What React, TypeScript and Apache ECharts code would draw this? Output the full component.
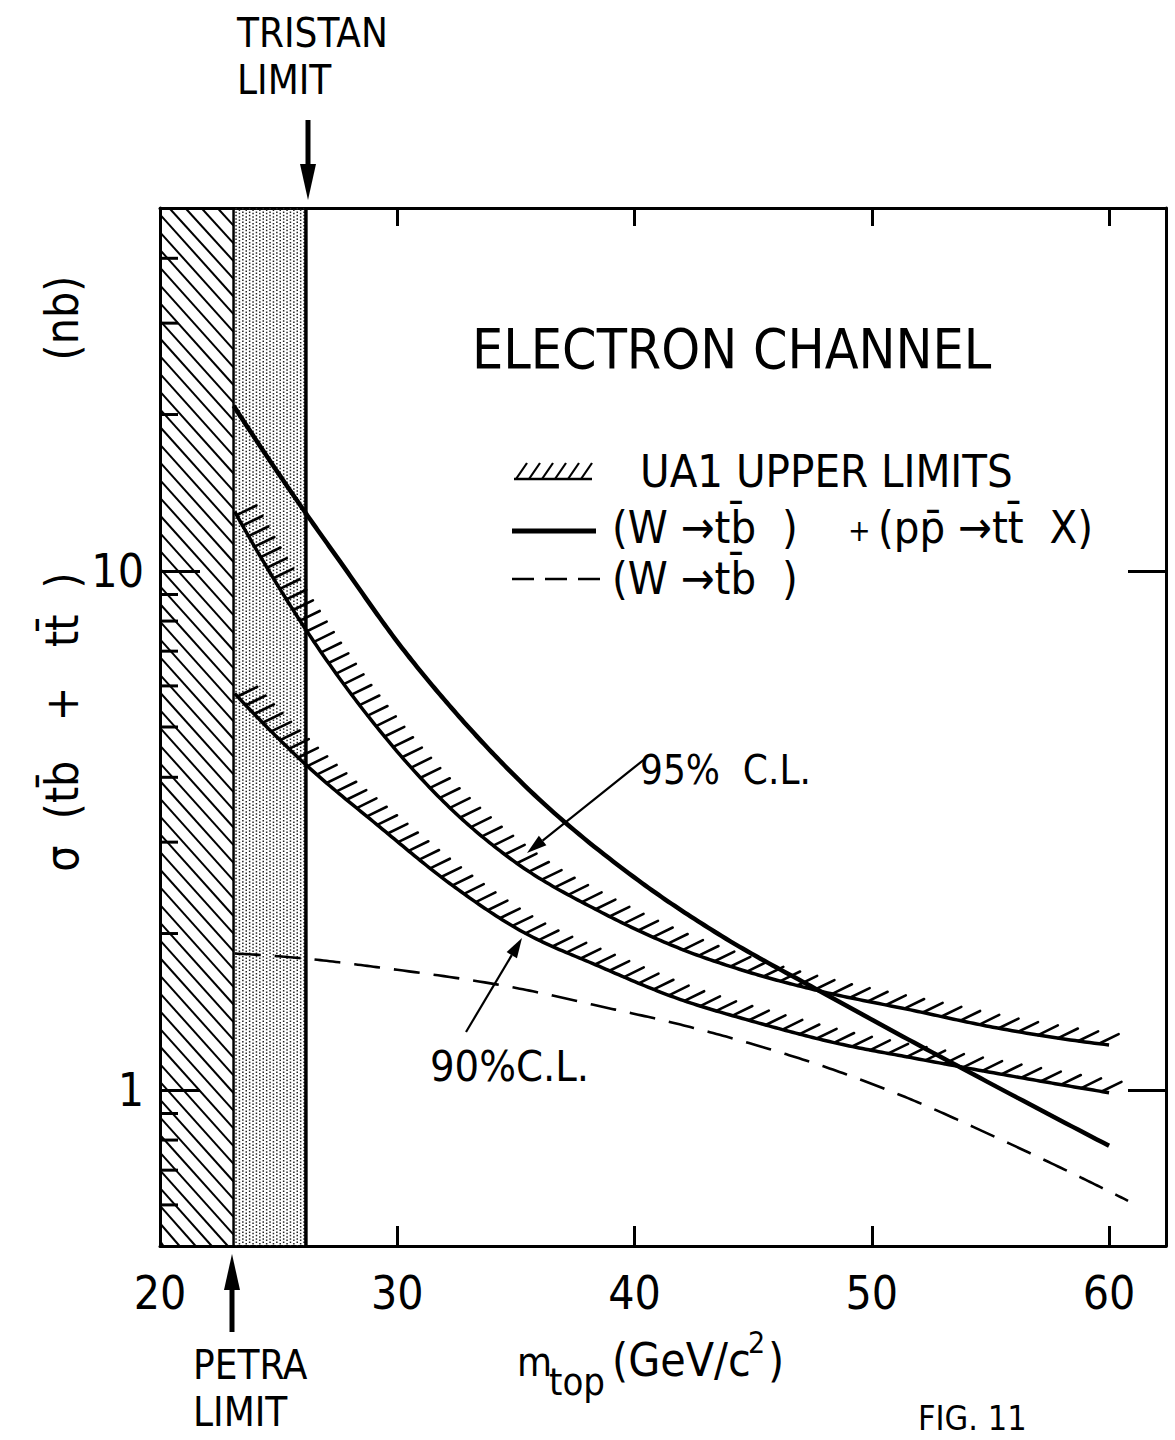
import React, { useEffect, useRef } from "react";
import * as echarts from "echarts";

const FONT = "'DejaVu Sans Condensed', 'DejaVu Sans', sans-serif";

// axes
const xRange = [20, 62.4];
const yRange = [0.5, 50];
const xTickValues = [20, 30, 40, 50, 60];
const yLabelValues = [1, 10];
const yMinorTicks = [0.6, 0.7, 0.8, 0.9, 2, 3, 4, 5, 6, 7, 8, 9, 20, 30, 40];

// excluded regions
const petraLimit = 23.1;
const tristanLimit = 26.15;

// (W -> t bbar) + (p pbar -> t tbar X)
const combinedMass = [23.1, 26.15, 27.6, 30.1, 32.6, 35.16, 40.17, 43.5, 47.8, 53.8, 60];
const combinedXsec = [20.8, 12.9, 10.4, 7.2, 5.24, 3.94, 2.53, 2.0, 1.55, 1.1, 0.78];

// UA1 upper limit 95% C.L.
const limit95Mass = [23.15, 26.1, 29.26, 32.2, 34.9, 38.5, 41.8, 45.1, 47.8, 51.8, 55.1, 60];
const limit95Xsec = [13.0, 7.76, 4.92, 3.5, 2.76, 2.21, 1.88, 1.67, 1.55, 1.42, 1.32, 1.22];

// UA1 upper limit 90% C.L.
const limit90Mass = [23.15, 26.1, 29.26, 32.2, 35.16, 38.5, 41.8, 45.1, 48.5, 51.8, 56.8, 60];
const limit90Xsec = [5.8, 4.25, 3.21, 2.5, 2.03, 1.73, 1.5, 1.35, 1.23, 1.15, 1.045, 0.987];

// (W -> t bbar) only
const wOnlyMass = [23.15, 26.1, 29.26, 35.16, 38.5, 41.8, 45.1, 48.5, 51.8, 55.1, 58.4, 60.8];
const wOnlyXsec = [1.83, 1.79, 1.72, 1.566, 1.45, 1.34, 1.22, 1.088, 0.952, 0.815, 0.692, 0.611];

// cubic Hermite curve through screen points (x increasing), sampled densely;
// tangents from the three-point (parabolic) derivative, valid for uneven spacing
function smoothPath(pts: number[][]): number[][] {
  const n = pts.length;
  const hs: number[] = [];
  const sec: number[] = [];
  for (let i = 0; i < n - 1; i++) {
    hs.push(pts[i + 1][0] - pts[i][0]);
    sec.push((pts[i + 1][1] - pts[i][1]) / hs[i]);
  }
  const m: number[] = [];
  for (let i = 1; i < n - 1; i++) {
    m[i] = (hs[i] * sec[i - 1] + hs[i - 1] * sec[i]) / (hs[i - 1] + hs[i]);
  }
  m[0] = n > 2 ? 2 * sec[0] - m[1] : sec[0];
  m[n - 1] = n > 2 ? 2 * sec[n - 2] - m[n - 2] : sec[n - 2];
  const out: number[][] = [];
  for (let i = 0; i < n - 1; i++) {
    const p1 = pts[i];
    const p2 = pts[i + 1];
    const h = hs[i];
    const c1 = [p1[0] + h / 3, p1[1] + (m[i] * h) / 3];
    const c2 = [p2[0] - h / 3, p2[1] - (m[i + 1] * h) / 3];
    const steps = 24;
    for (let k = 0; k < steps; k++) {
      const t = k / steps;
      const u = 1 - t;
      out.push([
        u * u * u * p1[0] + 3 * u * u * t * c1[0] + 3 * u * t * t * c2[0] + t * t * t * p2[0],
        u * u * u * p1[1] + 3 * u * u * t * c1[1] + 3 * u * t * t * c2[1] + t * t * t * p2[1],
      ]);
    }
  }
  out.push(pts[n - 1]);
  return out;
}

function hatchSegments(path: number[][], x0: number, x1: number) {
  const res: number[][] = [];
  const ang = (26 * Math.PI) / 180;
  const len = 22;
  let acc = 0;
  let next = 4;
  for (let i = 1; i < path.length; i++) {
    const a = path[i - 1];
    const b = path[i];
    const seg = Math.hypot(b[0] - a[0], b[1] - a[1]);
    while (seg > 0 && acc + seg >= next) {
      const t = (next - acc) / seg;
      const x = a[0] + (b[0] - a[0]) * t;
      const y = a[1] + (b[1] - a[1]) * t;
      res.push([x, y, x + len * Math.cos(ang), y - len * Math.sin(ang)]);
      const f = Math.min(1, Math.max(0, (x - x0) / (x1 - x0)));
      next += 12 + 9 * f;
    }
    acc += seg;
  }
  return res;
}

function smoothCurve(masses: number[], xsecs: number[], lineWidth: number, dash: number[] | null) {
  return (params: any, api: any) => {
    const pts = masses.map((mv, i) => api.coord([mv, xsecs[i]]));
    const path = smoothPath(pts);
    return {
      type: "polyline",
      shape: { points: path },
      style: { stroke: "#000", lineWidth, fill: "none", lineJoin: "round", lineDash: dash || undefined },
    };
  };
}

function hatchedCurve(masses: number[], xsecs: number[]) {
  return (params: any, api: any) => {
    const pts = masses.map((mv, i) => api.coord([mv, xsecs[i]]));
    const path = smoothPath(pts);
    const hs = hatchSegments(path, pts[0][0], pts[pts.length - 1][0]);
    return {
      type: "group",
      children: [
        {
          type: "polyline",
          shape: { points: path },
          style: { stroke: "#000", lineWidth: 3.5, fill: "none", lineJoin: "round" },
        },
        ...hs.map((h) => ({
          type: "line",
          shape: { x1: h[0], y1: h[1], x2: h[2], y2: h[3] },
          style: { stroke: "#000", lineWidth: 2.6, lineCap: "round" },
        })),
      ],
    };
  };
}

function regionsRender(params: any, api: any) {
  const cs = params.coordSys;
  const top = cs.y;
  const bottom = cs.y + cs.height;
  const xL = cs.x;
  const xP = api.coord([petraLimit, yRange[0]])[0];
  const xT = api.coord([tristanLimit, yRange[0]])[0];
  const children: any[] = [];
  // diagonal hatching of the excluded region below the PETRA limit
  const s = 1.1;
  const w = xP - xL;
  for (let c = top - w * s; c < bottom; c += 17.7) {
    let sx = xL + 1;
    let sy = c;
    if (sy < top) {
      sx = xL + (top - c) / s;
      sy = top;
    }
    let ex = xP;
    let ey = c + w * s;
    if (ey > bottom) {
      ex = xL + (bottom - c) / s;
      ey = bottom;
    }
    if (ex > sx + 1) {
      children.push({
        type: "line",
        shape: { x1: sx, y1: sy, x2: ex, y2: ey },
        style: { stroke: "#000", lineWidth: 2 },
      });
    }
  }
  // stipple between PETRA and TRISTAN limits
  let col = 0;
  for (let x = xP + 2.5; x < xT - 1.5; x += 3.4) {
    children.push({
      type: "line",
      shape: { x1: x, y1: top, x2: x, y2: bottom },
      style: {
        stroke: "#222",
        lineWidth: 1.5,
        lineDash: [1.5, 1.9],
        lineDashOffset: col % 2 === 0 ? 0 : 1.7,
      },
    });
    col++;
  }
  children.push({
    type: "line",
    shape: { x1: xP, y1: top, x2: xP, y2: bottom },
    style: { stroke: "#000", lineWidth: 2.5 },
  });
  children.push({
    type: "line",
    shape: { x1: xT, y1: top, x2: xT, y2: bottom },
    style: { stroke: "#000", lineWidth: 3.5 },
  });
  return { type: "group", children };
}

function arrowHead(tip: number[], from: number[], len: number, half: number) {
  const dx = tip[0] - from[0];
  const dy = tip[1] - from[1];
  const d = Math.hypot(dx, dy);
  const ux = dx / d;
  const uy = dy / d;
  const bx = tip[0] - ux * len;
  const by = tip[1] - uy * len;
  return [
    [tip[0], tip[1]],
    [bx - uy * half, by + ux * half],
    [bx + uy * half, by - ux * half],
  ];
}

function arrow(from: number[], tip: number[], lw: number, len: number, half: number) {
  const head = arrowHead(tip, from, len, half);
  const bx = (head[1][0] + head[2][0]) / 2;
  const by = (head[1][1] + head[2][1]) / 2;
  return [
    {
      type: "line",
      shape: { x1: from[0], y1: from[1], x2: bx, y2: by },
      style: { stroke: "#000", lineWidth: lw },
    },
    { type: "polygon", shape: { points: head }, style: { fill: "#000" } },
  ];
}

function txt(text: string, x: number, y: number, size: number, extra: any = {}) {
  return {
    type: "text",
    x,
    y,
    rotation: extra.rotation || 0,
    style: {
      text,
      font: `${size}px ${FONT}`,
      fill: "#000",
      align: extra.align || "left",
      textAlign: extra.align || "left",
      verticalAlign: "middle",
      textVerticalAlign: "middle",
    },
  };
}

export default function App() {
  const ref = useRef<HTMLDivElement>(null);
  useEffect(() => {
    document.body.style.margin = "0";
    if (!ref.current) return;
    const chart = echarts.init(ref.current, undefined, { renderer: "svg" });
    const axisLine = { show: true, onZero: false, lineStyle: { color: "#000", width: 3 } };
    const legendHatch: any[] = [
      { type: "line", shape: { x1: 514, y1: 479, x2: 592, y2: 479 }, style: { stroke: "#000", lineWidth: 2.5 } },
    ];
    for (let i = 0; i < 6; i++) {
      legendHatch.push({
        type: "line",
        shape: { x1: 516 + 13 * i, y1: 479, x2: 527 + 13 * i, y2: 463 },
        style: { stroke: "#000", lineWidth: 2.2 },
      });
    }
    const option: any = {
      animation: false,
      backgroundColor: "#fff",
      grid: { left: 160, right: 9, top: 208, bottom: 194, containLabel: false, outerBoundsMode: "none" },
      xAxis: [
        {
          type: "value",
          position: "bottom",
          min: xRange[0],
          max: xRange[1],
          interval: 10,
          axisLine,
          axisTick: { show: true, inside: true, length: 20, lineStyle: { color: "#000", width: 3 } },
          axisLabel: {
            show: true,
            margin: 24,
            fontSize: 46,
            fontFamily: FONT,
            color: "#000",
            formatter: (v: number) => (xTickValues.includes(v) ? String(v) : ""),
          },
          splitLine: { show: false },
        },
        {
          type: "value",
          position: "top",
          min: xRange[0],
          max: xRange[1],
          interval: 10,
          axisLine,
          axisTick: { show: true, inside: true, length: 18, lineStyle: { color: "#000", width: 3 } },
          axisLabel: { show: false },
          splitLine: { show: false },
        },
      ],
      yAxis: [
        {
          type: "log",
          logBase: 10,
          position: "left",
          min: yRange[0],
          max: yRange[1],
          axisLine,
          axisTick: { show: true, inside: true, length: 40, lineStyle: { color: "#000", width: 3 } },
          axisLabel: {
            show: true,
            margin: 16,
            fontSize: 46,
            fontFamily: FONT,
            color: "#000",
            formatter: (v: number) => (yLabelValues.some((t) => Math.abs(t - v) < 1e-6) ? String(v) : ""),
          },
          splitLine: { show: false },
          minorTick: { show: false },
        },
        {
          type: "log",
          logBase: 10,
          position: "right",
          min: yRange[0],
          max: yRange[1],
          axisLine,
          axisTick: { show: true, inside: true, length: 38, lineStyle: { color: "#000", width: 3 } },
          axisLabel: { show: false },
          splitLine: { show: false },
        },
      ],
      series: [
        {
          type: "custom",
          name: "excluded",
          xAxisIndex: 0,
          yAxisIndex: 0,
          z: 1,
          data: [[petraLimit, 1]],
          renderItem: regionsRender,
          silent: true,
        },
        {
          type: "custom",
          name: "minorTicks",
          xAxisIndex: 0,
          yAxisIndex: 0,
          z: 4,
          data: yMinorTicks.map((v) => [xRange[0], v]),
          renderItem: (params: any, api: any) => {
            const p = api.coord([api.value(0), api.value(1)]);
            return {
              type: "line",
              shape: { x1: p[0], y1: p[1], x2: p[0] + 18, y2: p[1] },
              style: { stroke: "#000", lineWidth: 3 },
            };
          },
          silent: true,
        },
        {
          type: "custom",
          name: "UA1 95% C.L.",
          xAxisIndex: 0,
          yAxisIndex: 0,
          z: 3,
          data: [[limit95Mass[0], limit95Xsec[0]]],
          renderItem: hatchedCurve(limit95Mass, limit95Xsec),
          silent: true,
        },
        {
          type: "custom",
          name: "UA1 90% C.L.",
          xAxisIndex: 0,
          yAxisIndex: 0,
          z: 3,
          data: [[limit90Mass[0], limit90Xsec[0]]],
          renderItem: hatchedCurve(limit90Mass, limit90Xsec),
          silent: true,
        },
        {
          type: "custom",
          name: "combined",
          xAxisIndex: 0,
          yAxisIndex: 0,
          z: 3,
          data: [[combinedMass[0], combinedXsec[0]]],
          renderItem: smoothCurve(combinedMass, combinedXsec, 4.5, null),
          silent: true,
        },
        {
          type: "custom",
          name: "W only",
          xAxisIndex: 0,
          yAxisIndex: 0,
          z: 3,
          data: [[wOnlyMass[0], wOnlyXsec[0]]],
          renderItem: smoothCurve(wOnlyMass, wOnlyXsec, 2.6, [26, 14]),
          silent: true,
        },
      ],
      graphic: {
        elements: [
          txt("TRISTAN", 237, 33, 40),
          txt("LIMIT", 237, 80, 40),
          ...arrow([308, 120], [308, 200], 5, 36, 8),
          txt("PETRA", 193, 1365, 40),
          txt("LIMIT", 193, 1412, 40),
          ...arrow([232, 1332], [232, 1254], 5, 36, 8),
          txt("ELECTRON CHANNEL", 472, 349, 55),
          ...legendHatch,
          { type: "line", shape: { x1: 512, y1: 531, x2: 596, y2: 531 }, style: { stroke: "#000", lineWidth: 5 } },
          {
            type: "line",
            shape: { x1: 512, y1: 579, x2: 600, y2: 579 },
            style: { stroke: "#000", lineWidth: 2.6, lineDash: [22, 11] },
          },
          txt("UA1 UPPER LIMITS", 640, 471, 45),
          txt("(W \u2192tb\u0304  )", 612, 527, 45),
          txt("+", 848, 530, 30),
          txt("(pp\u0304 \u2192tt\u0304  X)", 878, 527, 45),
          txt("(W \u2192tb\u0304  )", 612, 578, 45),
          txt("95%  C.L.", 640, 770, 40),
          ...arrow([646, 758], [527, 853], 2.2, 20, 6),
          txt("90%C.L.", 430, 1066, 43),
          ...arrow([466, 1032], [522, 938], 2.2, 20, 6),
          txt("σ  (tb\u0304   +   tt\u0304  )", 62, 722, 46, { rotation: Math.PI / 2, align: "center" }),
          txt("(nb)", 62, 318, 46, { rotation: Math.PI / 2, align: "center" }),
          txt("m", 517, 1362, 40),
          txt("top", 549, 1382, 38),
          txt("(GeV/c", 612, 1360, 46),
          txt("2", 748, 1342, 30),
          txt(")", 768, 1360, 46),
          txt("FIG. 11", 918, 1418, 34),
        ],
      },
    };
    chart.setOption(option);
    return () => chart.dispose();
  }, []);
  return <div ref={ref} style={{ width: 1175, height: 1440 }} />;
}
